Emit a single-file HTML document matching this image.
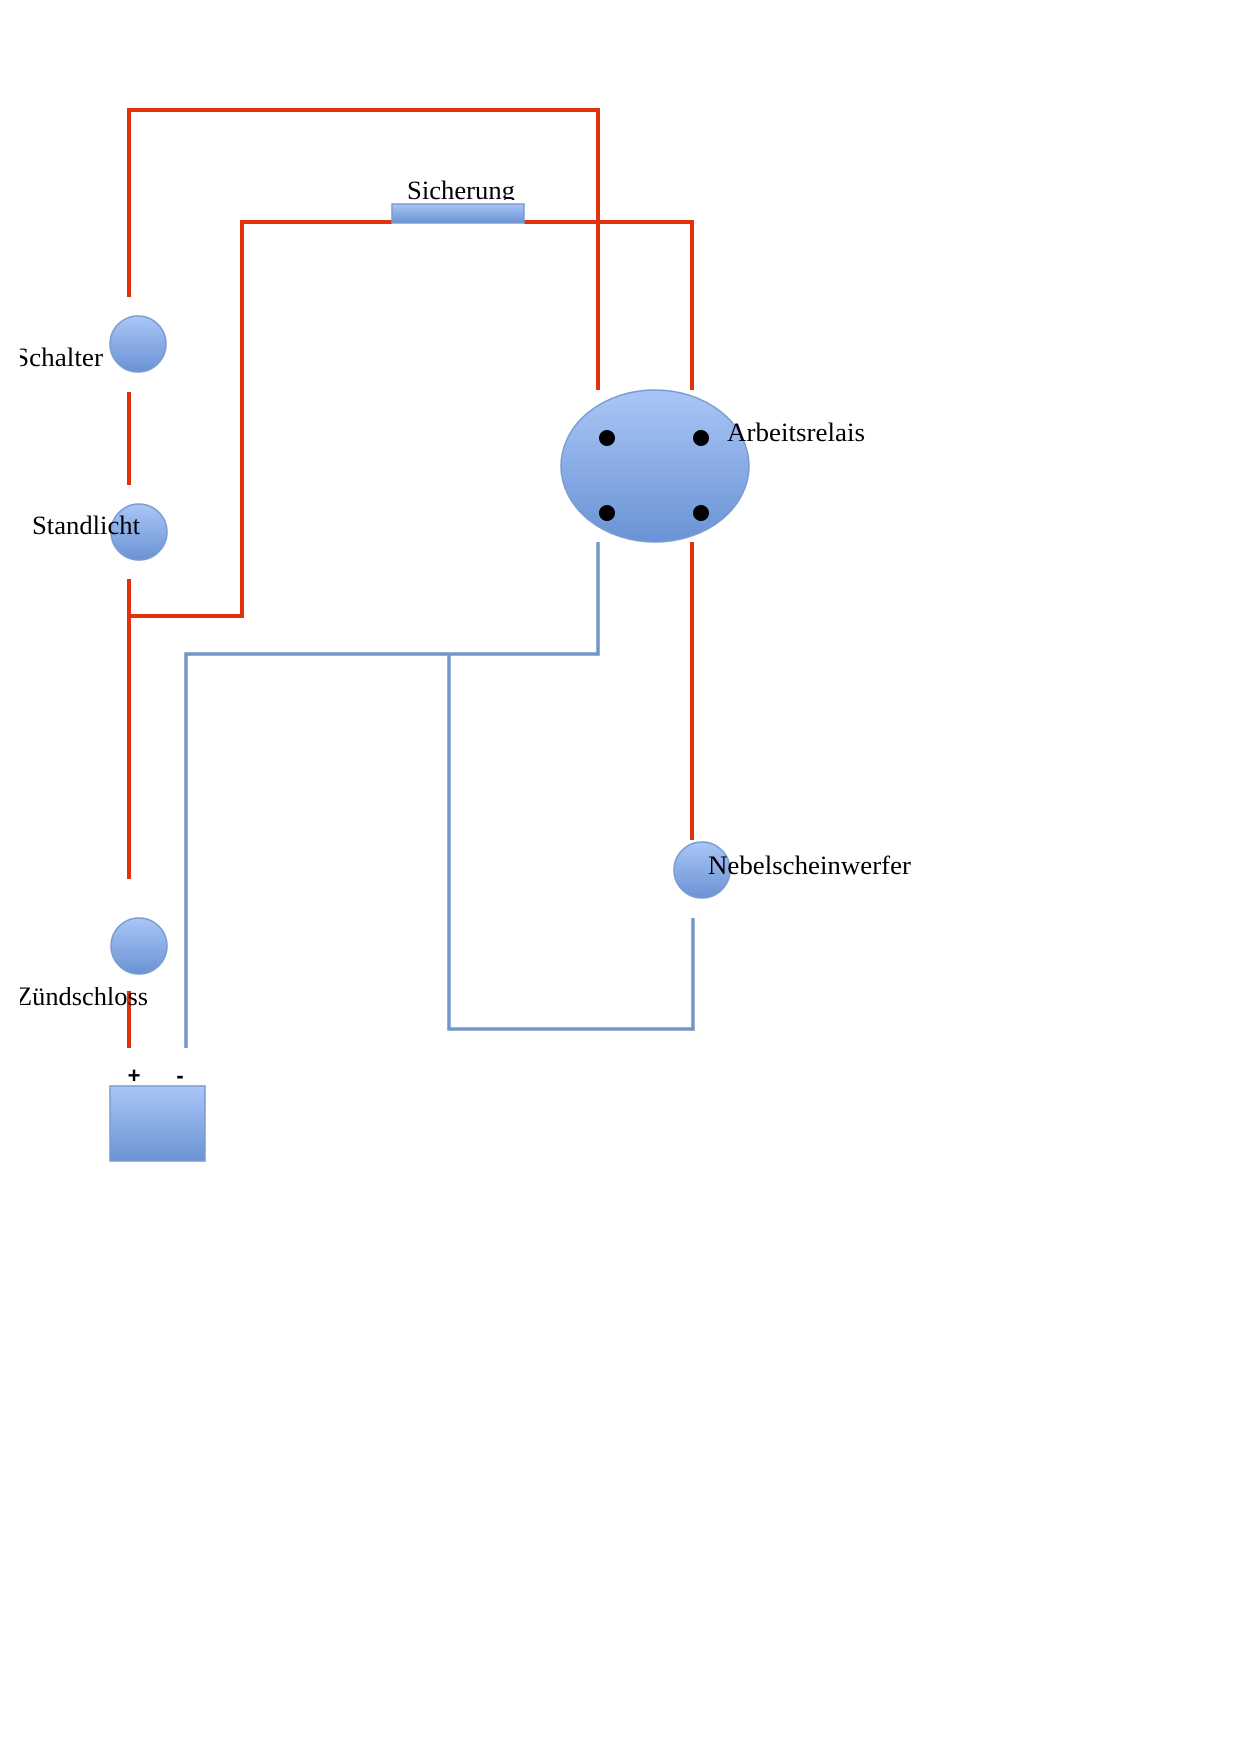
<!DOCTYPE html>
<html><head><meta charset="utf-8"><style>html,body{margin:0;padding:0;background:#fff}svg{display:block}</style></head>
<body>
<svg width="1240" height="1753" viewBox="0 0 1240 1753" xmlns="http://www.w3.org/2000/svg">
<defs>
<linearGradient id="g" x1="0" y1="0" x2="0" y2="1"><stop offset="0" stop-color="#aac6f7"/><stop offset="1" stop-color="#6a93d4"/></linearGradient>
<clipPath id="cs"><rect x="0" y="170" width="1240" height="30"/></clipPath>
<clipPath id="cz"><rect x="20" y="987" width="400" height="30"/></clipPath>
<clipPath id="cl"><rect x="20" y="0" width="1220" height="1753"/></clipPath>
</defs>
<g fill="none" stroke="#e0330c" stroke-width="4">
<polyline points="129,297 129,110 598,110 598,390"/>
<polyline points="392,222 242,222 242,616 129,616"/>
<polyline points="524,222 692,222 692,390"/>
<line x1="129" y1="392" x2="129" y2="485"/>
<line x1="129" y1="579" x2="129" y2="879"/>
<line x1="129" y1="991" x2="129" y2="1048"/>
<line x1="692" y1="542" x2="692" y2="840"/>
</g>
<g fill="none" stroke="#7396c8" stroke-width="3.5">
<polyline points="598,542 598,654 186,654 186,1048"/>
<polyline points="449,654 449,1029 693,1029 693,918"/>
</g>
<g fill="url(#g)" stroke="#7a9bd0" stroke-width="1.5">
<rect x="392" y="204" width="132" height="19"/>
<circle cx="138" cy="344" r="28"/>
<circle cx="139" cy="532" r="28"/>
<circle cx="139" cy="946" r="28"/>
<circle cx="702" cy="870" r="28"/>
<ellipse cx="655" cy="466" rx="94" ry="76"/>
<rect x="110" y="1086" width="95" height="75"/>
</g>
<g fill="#000">
<circle cx="607" cy="438" r="8"/><circle cx="701" cy="438" r="8"/>
<circle cx="607" cy="513" r="8"/><circle cx="701" cy="513" r="8"/>
</g>
<g font-family="Liberation Serif, serif" font-size="26" fill="#000">
<text x="407" y="199" textLength="108" lengthAdjust="spacingAndGlyphs" clip-path="url(#cs)">Sicherung</text>
<text x="14" y="366" textLength="89" lengthAdjust="spacingAndGlyphs" clip-path="url(#cl)">Schalter</text>
<text x="32" y="534" textLength="108" lengthAdjust="spacingAndGlyphs">Standlicht</text>
<text x="727" y="441" textLength="138" lengthAdjust="spacingAndGlyphs">Arbeitsrelais</text>
<text x="708" y="874" textLength="203" lengthAdjust="spacingAndGlyphs">Nebelscheinwerfer</text>
<text x="16" y="1005" textLength="132" lengthAdjust="spacingAndGlyphs" clip-path="url(#cz)">Zündschloss</text>
</g>
<g font-family="Liberation Sans, sans-serif" font-size="22" font-weight="bold" fill="#000">
<text x="134" y="1083" text-anchor="middle">+</text>
<text x="180" y="1083" text-anchor="middle">-</text>
</g>
</svg>
</body></html>
